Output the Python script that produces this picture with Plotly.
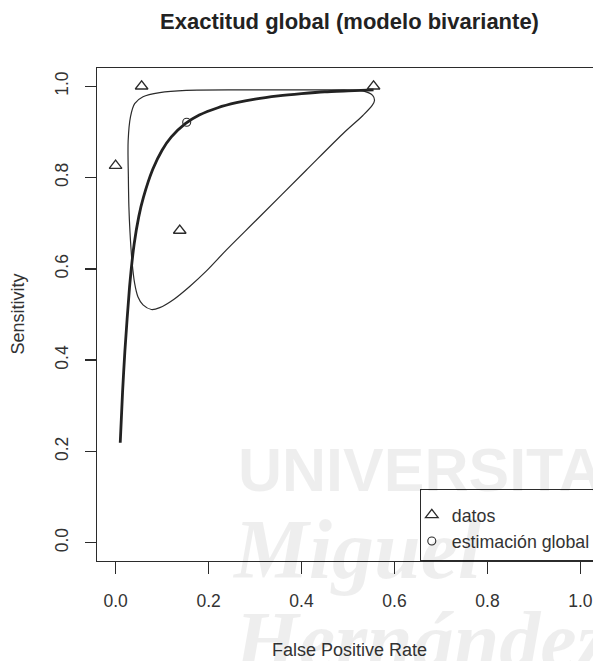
import plotly.graph_objects as go

# ---------------- data ----------------
study_fpr = [0.0, 0.056, 0.138, 0.555]
study_sens = [0.826, 1.0, 0.684, 1.0]

summary_fpr = [0.153]
summary_sens = [0.921]

sroc_fpr = [0.01, 0.015, 0.02, 0.03, 0.04, 0.05, 0.06, 0.08, 0.10, 0.12,
            0.15, 0.18, 0.22, 0.26, 0.30, 0.35, 0.40, 0.45, 0.50, 0.555]
sroc_sens = [0.219, 0.33, 0.42, 0.56, 0.655, 0.715, 0.757, 0.818, 0.860, 0.889,
             0.918, 0.937, 0.953, 0.964, 0.972, 0.979, 0.984, 0.988, 0.990, 0.992]

region_fpr = [0.027, 0.032, 0.041, 0.059, 0.095, 0.152, 0.303, 0.45, 0.532, 0.553,
              0.557, 0.552, 0.532, 0.489, 0.410, 0.303, 0.238, 0.195, 0.160, 0.125,
              0.095, 0.077, 0.059, 0.048, 0.041, 0.035, 0.031, 0.0286, 0.0275, 0.027]
region_sens = [0.88, 0.933, 0.962, 0.977, 0.986, 0.991, 0.992, 0.992, 0.990, 0.980,
               0.969, 0.958, 0.936, 0.896, 0.816, 0.707, 0.641, 0.595, 0.562, 0.533,
               0.515, 0.511, 0.521, 0.539, 0.568, 0.62, 0.68, 0.736, 0.80, 0.88]

x_ticks = [0.0, 0.2, 0.4, 0.6, 0.8, 1.0]
x_tick_labels = ["0.0", "0.2", "0.4", "0.6", "0.8", "1.0"]
y_ticks = [0.0, 0.2, 0.4, 0.6, 0.8, 1.0]
y_tick_labels = ["0.0", "0.2", "0.4", "0.6", "0.8", "1.0"]

title_text = "Exactitud global (modelo bivariante)"
x_title = "False Positive Rate"
y_title = "Sensitivity"
legend_names = ["datos", "estimación global"]

# ---------------- layout helpers ----------------
W, H = 593, 661
ML, MR, MT, MB = 97, 0, 68, 100
PW, PH = W - ML - MR, H - MT - MB


def pxx(x):  # window pixel -> paper fraction
    return (x - ML) / PW


def pxy(y):
    return (H - MB - y) / PH


INK = "#2b2b2b"
FONT = "Liberation Sans, Arial, Helvetica, sans-serif"

fig = go.Figure()

fig.add_trace(go.Scatter(
    x=region_fpr, y=region_sens, mode="lines",
    line=dict(color=INK, width=1.2, shape="spline", smoothing=0.9),
    showlegend=False, hoverinfo="skip"))

fig.add_trace(go.Scatter(
    x=sroc_fpr, y=sroc_sens, mode="lines",
    line=dict(color="#222", width=2.8, shape="spline", smoothing=0.6),
    showlegend=False, hoverinfo="skip"))

fig.add_trace(go.Scatter(
    x=study_fpr, y=study_sens, mode="markers", name=legend_names[0],
    marker=dict(symbol="triangle-up-open", size=11, color=INK,
                line=dict(width=1.3, color=INK))))

fig.add_trace(go.Scatter(
    x=summary_fpr, y=summary_sens, mode="markers", name=legend_names[1],
    marker=dict(symbol="circle-open", size=8, color=INK,
                line=dict(width=1.1, color=INK))))

axis_common = dict(
    showgrid=False, zeroline=False, showline=True, linecolor=INK, linewidth=1.3,
    ticks="outside", tickwidth=1.3, tickcolor=INK,
    tickfont=dict(family=FONT, size=17.5, color="#333"),
)

fig.update_xaxes(range=[-0.04, -0.04 + 1.08 * PW / 502], mirror=True,
                 tickvals=x_ticks, ticktext=x_tick_labels, ticklen=12,
                 ticklabelstandoff=12, **axis_common)
fig.update_yaxes(range=[-0.04, 1.04], mirror=False,
                 tickvals=y_ticks, ticktext=y_tick_labels, ticklen=11,
                 tickangle=-90, ticklabelstandoff=10, **axis_common)

annotations = [
    dict(text="<b>" + title_text + "</b>", x=pxx(349), y=pxy(21),
         font=dict(family=FONT, size=22, color="#222")),
    dict(text=x_title, x=pxx(349), y=pxy(650),
         font=dict(family=FONT, size=18, color="#333")),
    dict(text=y_title, x=pxx(17), y=pxy(314.5), textangle=-90,
         font=dict(family=FONT, size=18, color="#333")),
]
for a in annotations:
    a.update(xref="paper", yref="paper", xanchor="center", yanchor="middle",
             showarrow=False)

# faint background watermark of the source document
wm = "rgba(0,0,0,0.065)"
watermark = [
    dict(text="<b>UNIVERSITAS</b>", x=pxx(236), y=pxy(470),
         font=dict(family=FONT, size=61, color=wm)),
    dict(text="<b><i>Miguel</i></b>", x=pxx(230), y=pxy(549),
         font=dict(family="Liberation Serif, serif", size=84, color=wm)),
    dict(text="<b><i>Hernández</i></b>", x=pxx(232), y=pxy(640),
         font=dict(family="Liberation Serif, serif", size=82, color=wm)),
]
for a in watermark:
    a.update(xref="paper", yref="paper", xanchor="left", yanchor="middle",
             showarrow=False)

fig.update_layout(
    width=W, height=H,
    margin=dict(l=ML, r=MR, t=MT, b=MB, autoexpand=False, pad=0),
    paper_bgcolor="white", plot_bgcolor="white",
    font=dict(family=FONT, size=17.5, color="#333"),
    showlegend=True,
    legend=dict(x=pxx(419.5), y=0, xanchor="left", yanchor="bottom",
                bordercolor=INK, borderwidth=1.3, bgcolor="rgba(255,255,255,0)",
                font=dict(family=FONT, size=17.8, color="#333"),
                title=dict(text="&nbsp;", font=dict(size=5)),
                indentation=-9, tracegroupgap=0, itemwidth=30),
    annotations=annotations + watermark,
)

# remove the browser's default 8 px page margin so the figure fills the window
fig.write_html("out.html",
               config={"displayModeBar": False, "staticPlot": True},
               post_script="document.body.style.margin='0';"
                           "document.body.style.overflow='hidden';")
